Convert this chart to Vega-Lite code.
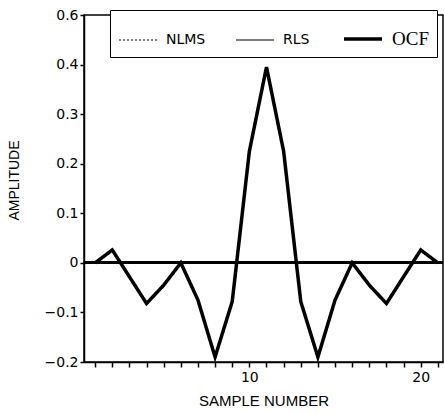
{
  "$schema": "https://vega.github.io/schema/vega-lite/v6.json",
  "autosize": "none",
  "width": 359,
  "height": 347,
  "padding": {"left": 84, "top": 15, "right": 1, "bottom": 51},
  "background": "white",
  "config": {
    "view": {"stroke": "black", "strokeWidth": 1.5},
    "axis": {
      "domainColor": "black", "domainWidth": 1.5, "tickColor": "black", "tickWidth": 1.5,
      "labelColor": "black", "titleColor": "black", "grid": false,
      "labelFont": "DejaVu Sans", "labelFontSize": 14, "titleFont": "Liberation Sans", "titleFontWeight": "normal"
    }
  },
  "data": {"values": [
    {"sample": 1, "amp": 0, "series": "OCF"},
    {"sample": 2, "amp": 0.026, "series": "OCF"},
    {"sample": 3, "amp": -0.028, "series": "OCF"},
    {"sample": 4, "amp": -0.082, "series": "OCF"},
    {"sample": 5, "amp": -0.045, "series": "OCF"},
    {"sample": 6, "amp": 0, "series": "OCF"},
    {"sample": 7, "amp": -0.075, "series": "OCF"},
    {"sample": 8, "amp": -0.19, "series": "OCF"},
    {"sample": 9, "amp": -0.078, "series": "OCF"},
    {"sample": 10, "amp": 0.225, "series": "OCF"},
    {"sample": 11, "amp": 0.395, "series": "OCF"},
    {"sample": 12, "amp": 0.225, "series": "OCF"},
    {"sample": 13, "amp": -0.078, "series": "OCF"},
    {"sample": 14, "amp": -0.19, "series": "OCF"},
    {"sample": 15, "amp": -0.075, "series": "OCF"},
    {"sample": 16, "amp": 0, "series": "OCF"},
    {"sample": 17, "amp": -0.045, "series": "OCF"},
    {"sample": 18, "amp": -0.082, "series": "OCF"},
    {"sample": 19, "amp": -0.028, "series": "OCF"},
    {"sample": 20, "amp": 0.026, "series": "OCF"},
    {"sample": 21, "amp": 0, "series": "OCF"}
  ]},
  "layer": [
    {
      "mark": {"type": "rule", "color": "black", "strokeWidth": 2},
      "encoding": {"y": {"datum": 0, "type": "quantitative"}}
    },
    {
      "mark": {"type": "line", "strokeJoin": "miter", "clip": true},
      "encoding": {
        "x": {
          "field": "sample", "type": "quantitative",
          "scale": {"domain": [0.35, 21.3], "nice": false, "zero": false},
          "axis": {
            "values": [1,2,3,4,5,6,7,8,9,10,11,12,13,14,15,16,17,18,19,20,21],
            "labelExpr": "datum.value % 10 == 0 ? datum.label : ''",
            "tickSize": 5, "labelPadding": 3,
            "title": "SAMPLE NUMBER", "titleFontSize": 15, "titleY": 38, "titleBaseline": "middle"
          }
        },
        "y": {
          "field": "amp", "type": "quantitative",
          "scale": {"domain": [-0.2, 0.5], "nice": false, "zero": false},
          "axis": {
            "values": [-0.2, -0.1, 0, 0.1, 0.2, 0.3, 0.4, 0.5],
            "labelExpr": "datum.value == 0 ? '0' : (datum.value > 0.45 ? '0.6' : format(datum.value, '.1f'))",
            "tickSize": 4, "labelPadding": 2,
            "title": "AMPLITUDE", "titleFontSize": 14, "titleX": -70, "titleY": 165,
            "titleAngle": -90, "titleAlign": "center", "titleBaseline": "middle"
          }
        },
        "color": {
          "field": "series", "type": "nominal",
          "scale": {"domain": ["NLMS", "RLS", "OCF"], "range": ["black", "black", "black"]},
          "legend": {
            "title": null, "orient": "none", "legendX": 26, "legendY": -5, "direction": "horizontal",
            "strokeColor": "black", "fillColor": "white", "padding": 8,
            "symbolType": "stroke", "symbolSize": 1444, "symbolStrokeColor": "black",
            "labelFontSize": 15, "labelFont": "DejaVu Sans", "labelColor": "black",
            "columnPadding": 27, "labelOffset": 8,
            "encode": {"labels": {"update": {
              "font": {"signal": "datum.label == 'OCF' ? 'Liberation Serif' : 'DejaVu Sans'"},
              "fontSize": {"signal": "datum.label == 'OCF' ? 19 : 14"}
            }}}
          }
        },
        "strokeDash": {
          "field": "series", "type": "nominal",
          "scale": {"domain": ["NLMS", "RLS", "OCF"], "range": [[2, 2], [1, 0], [1, 0]]}
        },
        "strokeWidth": {
          "field": "series", "type": "nominal",
          "scale": {"type": "ordinal", "domain": ["NLMS", "RLS", "OCF"], "range": [1.2, 1.2, 3.5]}
        }
      }
    }
  ]
}
